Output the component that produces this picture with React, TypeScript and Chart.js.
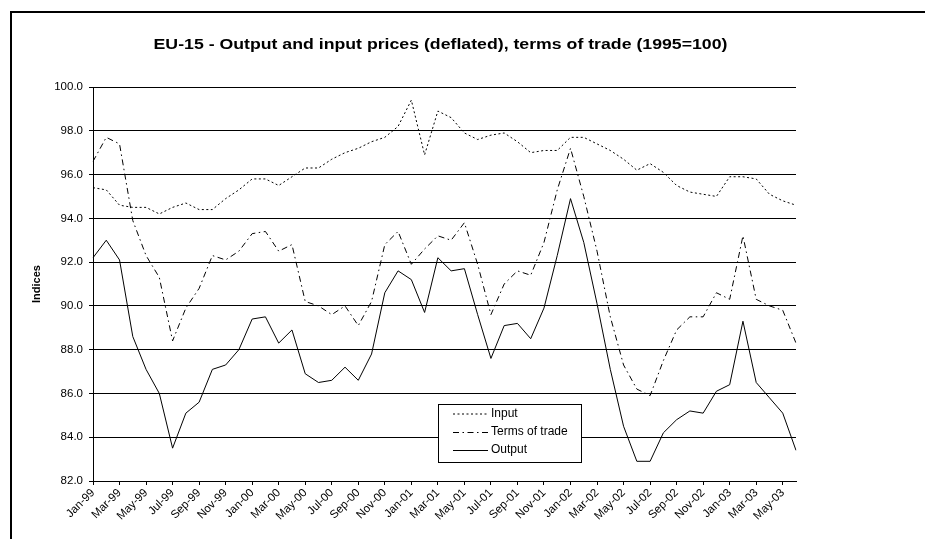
import React, { useEffect, useRef } from "react";
import { Chart, registerables } from "chart.js";

Chart.register(...registerables);

const categories = [
  "Jan-99", "Feb-99", "Mar-99", "Apr-99", "May-99", "Jun-99", "Jul-99", "Aug-99", "Sep-99", "Oct-99", "Nov-99", "Dec-99",
  "Jan-00", "Feb-00", "Mar-00", "Apr-00", "May-00", "Jun-00", "Jul-00", "Aug-00", "Sep-00", "Oct-00", "Nov-00", "Dec-00",
  "Jan-01", "Feb-01", "Mar-01", "Apr-01", "May-01", "Jun-01", "Jul-01", "Aug-01", "Sep-01", "Oct-01", "Nov-01", "Dec-01",
  "Jan-02", "Feb-02", "Mar-02", "Apr-02", "May-02", "Jun-02", "Jul-02", "Aug-02", "Sep-02", "Oct-02", "Nov-02", "Dec-02",
  "Jan-03", "Feb-03", "Mar-03", "Apr-03", "May-03", "Jun-03",
];

const inputValues = [
  95.4, 95.3, 94.6, 94.5, 94.5, 94.2, 94.5, 94.7, 94.4, 94.4, 94.9, 95.3,
  95.8, 95.8, 95.5, 95.9, 96.3, 96.3, 96.7, 97.0, 97.2, 97.5, 97.7, 98.2,
  99.4, 96.9, 98.9, 98.6, 97.9, 97.6, 97.8, 97.9, 97.5, 97.0, 97.1, 97.1,
  97.7, 97.7, 97.4, 97.1, 96.7, 96.2, 96.5, 96.1, 95.5, 95.2, 95.1, 95.0,
  95.9, 95.9, 95.8, 95.1, 94.8, 94.6,
];

const termsOfTradeValues = [
  96.6, 97.7, 97.4, 93.9, 92.3, 91.3, 88.4, 89.9, 90.8, 92.3, 92.1, 92.5,
  93.3, 93.4, 92.5, 92.8, 90.2, 90.0, 89.6, 90.0, 89.1, 90.2, 92.8, 93.4,
  91.9, 92.6, 93.2, 93.0, 93.8, 91.9, 89.6, 91.0, 91.6, 91.4, 92.9, 95.3,
  97.2, 95.0, 92.5, 89.5, 87.3, 86.2, 85.9, 87.5, 88.9, 89.5, 89.5, 90.6,
  90.3, 93.2, 90.3, 90.0, 89.8, 88.3,
];

const outputValues = [
  92.2, 93.0, 92.1, 88.6, 87.1, 86.0, 83.5, 85.1, 85.6, 87.1, 87.3, 88.0,
  89.4, 89.5, 88.3, 88.9, 86.9, 86.5, 86.6, 87.2, 86.6, 87.8, 90.6, 91.6,
  91.2, 89.7, 92.2, 91.6, 91.7, 89.6, 87.6, 89.1, 89.2, 88.5, 89.9, 92.3,
  94.9, 92.9, 90.1, 87.1, 84.5, 82.9, 82.9, 84.2, 84.8, 85.2, 85.1, 86.1,
  86.4, 89.3, 86.5, 85.8, 85.1, 83.4,
];

const seriesNames = ["Input", "Terms of trade", "Output"];
const chartTitle = "EU-15 - Output and input prices (deflated), terms of trade (1995=100)";
const yAxisTitle = "Indices";
const yMin = 82;
const yMax = 100;
const yStep = 2;

const FONT = '"Liberation Sans", Arial, Helvetica, sans-serif';
const W = 925;
const H = 539;

const dashInput = [2, 2.5];
const dashTot = [6, 3.5, 1.5, 3.5];
const dashOutput: number[] = [];

export default function App() {
  const ref = useRef<HTMLCanvasElement>(null);

  useEffect(() => {
    const canvas = ref.current;
    if (!canvas) return;

    const framePlugin = {
      id: "frame",
      beforeDraw(chart: any) {
        const ctx = chart.ctx;
        ctx.save();
        ctx.fillStyle = "#ffffff";
        ctx.fillRect(0, 0, W, H);
        ctx.strokeStyle = "#000";
        ctx.lineWidth = 2;
        ctx.strokeRect(11, 12, W + 40, H + 40);
        ctx.restore();
      },
    };

    const textPlugin = {
      id: "texts",
      afterDraw(chart: any) {
        const ctx = chart.ctx;
        const area = chart.chartArea;
        ctx.save();
        ctx.fillStyle = "#000";
        ctx.font = `bold 15px ${FONT}`;
        ctx.textAlign = "center";
        ctx.textBaseline = "middle";
        ctx.translate((area.left + area.right) / 2 - 4, 45);
        ctx.scale(1.18, 1);
        ctx.fillText(chartTitle, 0, 0);
        ctx.restore();

        ctx.save();
        ctx.fillStyle = "#000";
        ctx.textAlign = "center";
        ctx.textBaseline = "middle";
        ctx.translate(37, (area.top + area.bottom) / 2);
        ctx.rotate(-Math.PI / 2);
        ctx.font = `bold 11px ${FONT}`;
        ctx.fillText(yAxisTitle, 0, 0);
        ctx.restore();

        // legend
        ctx.save();
        const bx = 438.5, by = 404.5, bw = 143, bh = 58;
        ctx.fillStyle = "#fff";
        ctx.fillRect(bx, by, bw, bh);
        ctx.strokeStyle = "#000";
        ctx.lineWidth = 1;
        ctx.strokeRect(bx, by, bw, bh);
        const dashes = [dashInput, dashTot, dashOutput];
        const rows = [413.5, 432, 450];
        ctx.font = `12px ${FONT}`;
        ctx.textAlign = "left";
        ctx.textBaseline = "middle";
        seriesNames.forEach((name, i) => {
          ctx.beginPath();
          ctx.setLineDash(dashes[i]);
          ctx.moveTo(453, rows[i] + 0.5);
          ctx.lineTo(488, rows[i] + 0.5);
          ctx.strokeStyle = "#000";
          ctx.stroke();
          ctx.setLineDash([]);
          ctx.fillStyle = "#000";
          ctx.fillText(name, 491, rows[i]);
        });
        ctx.restore();
      },
    };

    const mk = (label: string, data: number[], dash: number[]) => ({
      label,
      data,
      borderColor: "#000",
      backgroundColor: "#000",
      borderWidth: 1,
      borderDash: dash,
      pointRadius: 0,
      pointHoverRadius: 0,
      fill: false,
      tension: 0,
    });

    const chart = new Chart(canvas, {
      type: "line",
      data: {
        labels: categories,
        datasets: [
          mk(seriesNames[0], inputValues, dashInput),
          mk(seriesNames[1], termsOfTradeValues, dashTot),
          mk(seriesNames[2], outputValues, dashOutput),
        ],
      },
      options: {
        responsive: false,
        animation: false,
        devicePixelRatio: 1,
        layout: { padding: { left: 0, right: 129, top: 87, bottom: 0 } },
        plugins: {
          legend: { display: false },
          title: { display: false },
          tooltip: { enabled: false },
        },
        events: [],
        scales: {
          x: {
            type: "category",
            offset: false,
            grid: {
              display: true,
              drawOnChartArea: false,
              drawTicks: true,
              tickLength: 4,
              color: "#000",
              tickColor: "#000",
            },
            border: { display: true, color: "#000", width: 1 },
            ticks: {
              autoSkip: false,
              maxRotation: 45,
              minRotation: 45,
              color: "#000",
              padding: 1,
              font: { family: FONT, size: 11.5 },
            },
            afterBuildTicks: (axis: any) => {
              axis.ticks = axis.ticks.filter((t: any) => t.value % 2 === 0);
            },
            afterFit: (axis: any) => {
              axis.height = 58;
            },
          },
          y: {
            min: yMin,
            max: yMax,
            grid: {
              color: "#000",
              tickColor: "#000",
              tickLength: 4,
              lineWidth: 1,
            },
            border: { display: true, color: "#000", width: 1 },
            ticks: {
              stepSize: yStep,
              color: "#000",
              padding: 6,
              font: { family: FONT, size: 11.5 },
              callback: (v: any) => Number(v).toFixed(1),
            },
            afterFit: (axis: any) => {
              axis.width = 93;
            },
          },
        },
      },
      plugins: [framePlugin, textPlugin],
    } as any);

    return () => chart.destroy();
  }, []);

  return (
    <div style={{ position: "fixed", left: 0, top: 0, width: W, height: H, background: "#fff" }}>
      <canvas ref={ref} width={W} height={H} style={{ display: "block", width: W, height: H }} />
    </div>
  );
}
